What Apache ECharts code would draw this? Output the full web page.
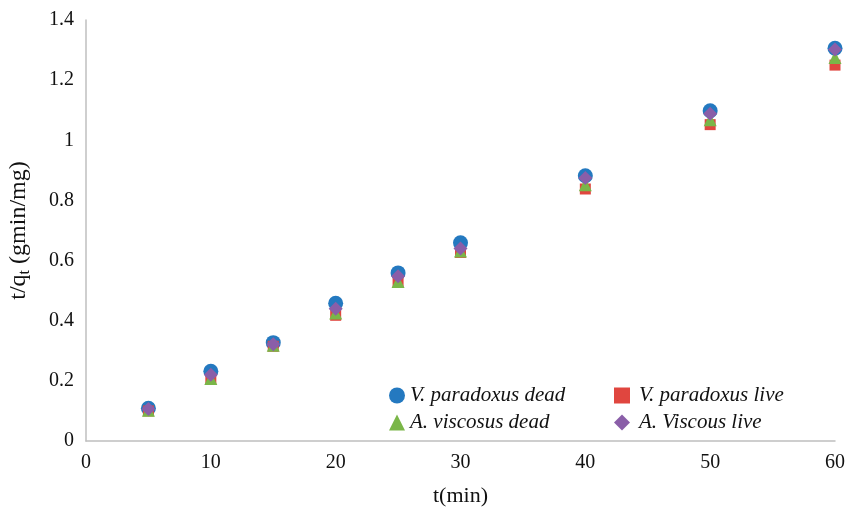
<!DOCTYPE html>
<html><head><meta charset="utf-8">
<script src="https://cdn.jsdelivr.net/npm/echarts@6/dist/echarts.min.js"></script>
<style>html,body{margin:0;padding:0;background:#fff}#c{width:848px;height:507px}</style>
</head><body><div id="c"></div>
<script>
var times = [5, 10, 15, 20, 25, 30, 40, 50, 60];
var vpDead = [0.109, 0.232, 0.327, 0.458, 0.559, 0.659, 0.882, 1.098, 1.306];
var vpLive = [0.100, 0.205, 0.315, 0.418, 0.530, 0.627, 0.838, 1.052, 1.250];
var avDead = [0.102, 0.208, 0.318, 0.426, 0.530, 0.632, 0.852, 1.068, 1.275];
var avLive = [0.106, 0.220, 0.322, 0.440, 0.548, 0.640, 0.875, 1.088, 1.302];
var seriesNames = ['V. paradoxus dead', 'V. paradoxus live', 'A. viscosus dead', 'A. Viscous live'];
var yTicks = ['0', '0.2', '0.4', '0.6', '0.8', '1', '1.2', '1.4'];

function pairs(v){ return times.map(function(t,i){ return [t, v[i]]; }); }
var font = 'Liberation Serif';
var chart = echarts.init(document.getElementById('c'));
chart.setOption({
  backgroundColor: '#fff',
  animation: false,
  grid: {left: 86, right: 13, top: 20, bottom: 66, containLabel: false, outerBoundsMode: 'none'},
  legend: [{
    left: 384, top: 380, orient: 'vertical', itemGap: 6, itemWidth: 16, itemHeight: 16,
    data: [seriesNames[0], seriesNames[2]],
    textStyle: {fontFamily: font, fontStyle: 'italic', fontSize: 21, color: '#111'}
  }, {
    left: 609, top: 380, orient: 'vertical', itemGap: 6, itemWidth: 16, itemHeight: 16,
    data: [seriesNames[1], seriesNames[3]],
    textStyle: {fontFamily: font, fontStyle: 'italic', fontSize: 21, color: '#111', padding: [0, 0, 0, 4]}
  }],
  xAxis: {
    type: 'value', min: 0, max: 60, interval: 10,
    axisLine: {show: true, lineStyle: {color: '#bfbfbf', width: 1.5}},
    axisTick: {show: false}, splitLine: {show: false},
    axisLabel: {fontFamily: font, fontSize: 20, color: '#111', margin: 12},
    name: 't(min)', nameLocation: 'middle', nameGap: 44,
    nameTextStyle: {fontFamily: font, fontSize: 22, color: '#111'}
  },
  yAxis: {
    type: 'value', min: 0, max: 1.4, interval: 0.2,
    axisLine: {show: true, lineStyle: {color: '#bfbfbf', width: 1.5}},
    axisTick: {show: false}, splitLine: {show: false},
    axisLabel: {fontFamily: font, fontSize: 20, color: '#111', margin: 12,
      formatter: function(v){ return yTicks[Math.round(v/0.2)]; }},
    name: '{a|t/q}{b|t}{a| (gmin/mg)}', nameLocation: 'middle', nameGap: 53, nameRotate: 90,
    nameTextStyle: {fontFamily: font, fontSize: 24, color: '#111',
      rich: {
        a: {fontFamily: font, fontSize: 24, color: '#111', lineHeight: 28},
        b: {fontFamily: font, fontSize: 16, color: '#111', lineHeight: 28, padding: [12, 0, 0, 0]}
      }}
  },
  series: [
    {name: seriesNames[0], type: 'scatter', data: pairs(vpDead), symbol: 'circle', symbolSize: 15, itemStyle: {color: '#2479c0', opacity: 1}, z: 2},
    {name: seriesNames[1], type: 'scatter', data: pairs(vpLive), symbol: 'rect', symbolSize: 11, itemStyle: {color: '#e0463f', opacity: 1}, z: 3},
    {name: seriesNames[2], type: 'scatter', data: pairs(avDead), symbol: 'triangle', symbolSize: 13, itemStyle: {color: '#7ab648', opacity: 1}, z: 4},
    {name: seriesNames[3], type: 'scatter', data: pairs(avLive), symbol: 'diamond', symbolSize: 14, itemStyle: {color: '#8a5ea8', opacity: 1}, z: 5}
  ]
});
</script></body></html>
